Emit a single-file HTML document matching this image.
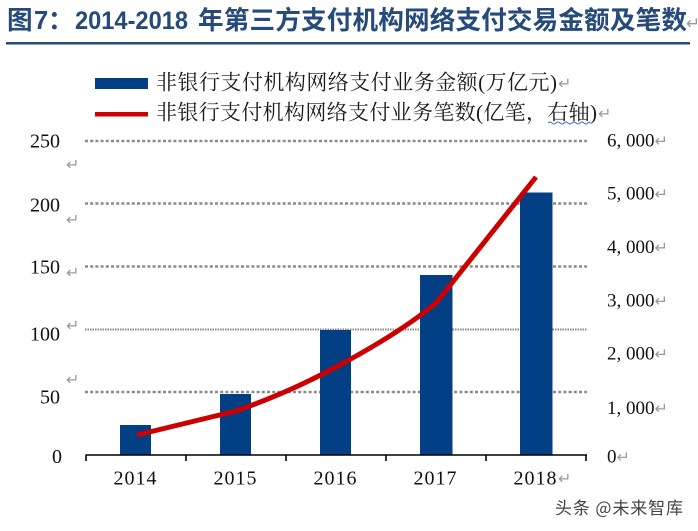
<!DOCTYPE html>
<html>
<head>
<meta charset="utf-8">
<style>
  html,body{margin:0;padding:0;background:#fff;}
  body{width:698px;height:531px;overflow:hidden;}
  svg{display:block;}
  .ser{font-family:"Liberation Serif","Noto Serif CJK SC",serif;}
  .cjk{font-family:"Liberation Serif","Noto Serif CJK SC","IPAMincho",serif;}
  .ret{fill:#9a9a9a;font-family:"DejaVu Sans",sans-serif;}
</style>
</head>
<body>
<svg width="698" height="531" viewBox="0 0 698 531" xmlns="http://www.w3.org/2000/svg">
  <rect width="698" height="531" fill="#fff"/>

  <!-- Title -->
  <g fill="#264a7a" font-weight="bold" font-family="'Liberation Sans','Noto Sans CJK SC',sans-serif">
    <text x="7" y="29" font-size="25.6">图</text>
    <text x="34" y="29" font-size="25.6">7</text>
    <text x="48" y="29" font-size="25.6">：</text>
    <text x="75" y="29" font-size="25" textLength="113" lengthAdjust="spacingAndGlyphs">2014-2018</text>
    <text x="198" y="29" font-size="25.6" textLength="489" lengthAdjust="spacing">年第三方支付机构网络支付交易金额及笔数</text>
  </g>
  <text x="686" y="29" font-size="17" class="ret">↵</text>
  <rect x="6" y="42" width="684" height="2.5" fill="#264a7a"/>

  <!-- Legend -->
  <rect x="95" y="78" width="53" height="11" fill="#023f85"/>
  <rect x="95" y="112" width="53" height="4.5" fill="#cc0000"/>
  <text x="156" y="89.5" font-size="21" class="cjk" fill="#1a1a1a" textLength="401" lengthAdjust="spacing">非银行支付机构网络支付业务金额(万亿元)</text>
  <text x="558" y="89" font-size="16" class="ret">↵</text>
  <text x="156" y="119.5" font-size="21" class="cjk" fill="#1a1a1a" textLength="441" lengthAdjust="spacing">非银行支付机构网络支付业务笔数(亿笔，右轴)</text>
  <text x="598" y="119" font-size="16" class="ret">↵</text>
  <path d="M548 123 q2 -2 4 0 t4 0 t4 0 t4 0 t4 0 t4 0 t4 0 t4 0 t4 0 t4 0 t2 0" fill="none" stroke="#3a6fd8" stroke-width="1"/>

  <!-- Gridlines -->
  <g stroke="#8a8a8a" stroke-width="2.6" stroke-dasharray="3,2.2" fill="none">
    <line x1="85" y1="141" x2="587" y2="141"/>
    <line x1="85" y1="203.5" x2="587" y2="203.5"/>
    <line x1="85" y1="266.5" x2="587" y2="266.5"/>
    <line x1="85" y1="329.5" x2="587" y2="329.5" stroke-width="2" stroke-dasharray="1.5,1"/>
    <line x1="85" y1="392" x2="587" y2="392"/>
  </g>

  <!-- Bars -->
  <g fill="#023f85">
    <rect x="120" y="425" width="31" height="30"/>
    <rect x="220" y="394" width="31" height="61"/>
    <rect x="320" y="330" width="31" height="125"/>
    <rect x="420" y="275" width="32.5" height="180"/>
    <rect x="520" y="192.5" width="32.5" height="262.5"/>
  </g>

  <!-- Axis -->
  <g stroke="#000" stroke-width="1.6">
    <line x1="85.5" y1="455" x2="587" y2="455"/>
    <line x1="86" y1="455" x2="86" y2="461"/>
    <line x1="186" y1="455" x2="186" y2="461"/>
    <line x1="286" y1="455" x2="286" y2="461"/>
    <line x1="386" y1="455" x2="386" y2="461"/>
    <line x1="486" y1="455" x2="486" y2="461"/>
    <line x1="586" y1="455" x2="586" y2="461"/>
  </g>

  <!-- Line series -->
  <path d="M137 435 L236 411 Q290 392 336 367 Q400 333 436 303 L536 177" fill="none" stroke="#cc0000" stroke-width="5" stroke-linejoin="round" stroke-linecap="butt"/>

  <!-- Left axis labels -->
  <g class="ser" font-size="20" fill="#111" text-anchor="end">
    <text x="60" y="147.5">250</text>
    <text x="60" y="211.5">200</text>
    <text x="60" y="273.5">150</text>
    <text x="60" y="340.5">100</text>
    <text x="60" y="403.5">50</text>
    <text x="62" y="463">0</text>
  </g>
  <g class="ret" font-size="16">
    <text x="66" y="170">↵</text>
    <text x="66" y="225">↵</text>
    <text x="66" y="278">↵</text>
    <text x="66" y="331">↵</text>
    <text x="66" y="385">↵</text>
  </g>

  <!-- Right axis labels -->
  <g class="ser" font-size="19" fill="#111">
    <text x="607" y="146.5">6, 000<tspan class="ret" font-size="16">↵</tspan></text>
    <text x="607" y="199.5">5, 000<tspan class="ret" font-size="16">↵</tspan></text>
    <text x="607" y="253">4, 000<tspan class="ret" font-size="16">↵</tspan></text>
    <text x="607" y="306.5">3, 000<tspan class="ret" font-size="16">↵</tspan></text>
    <text x="607" y="359.5">2, 000<tspan class="ret" font-size="16">↵</tspan></text>
    <text x="607" y="414">1, 000<tspan class="ret" font-size="16">↵</tspan></text>
    <text x="607" y="462.5">0<tspan class="ret" font-size="16">↵</tspan></text>
  </g>

  <!-- X labels -->
  <g class="ser" font-size="20" fill="#111" text-anchor="middle" letter-spacing="1">
    <text x="135.5" y="484.5">2014</text>
    <text x="235.5" y="484.5">2015</text>
    <text x="335.5" y="484.5">2016</text>
    <text x="435.5" y="484.5">2017</text>
    <text x="535.5" y="484.5">2018</text>
  </g>
  <text x="558" y="484" font-size="16" class="ret">↵</text>

  <!-- Watermark -->
  <text x="555" y="514" font-size="17" fill="#444" font-family="'Noto Sans CJK SC','WenQuanYi Zen Hei',sans-serif" textLength="128" lengthAdjust="spacing">头条 @未来智库</text>
</svg>
</body>
</html>
